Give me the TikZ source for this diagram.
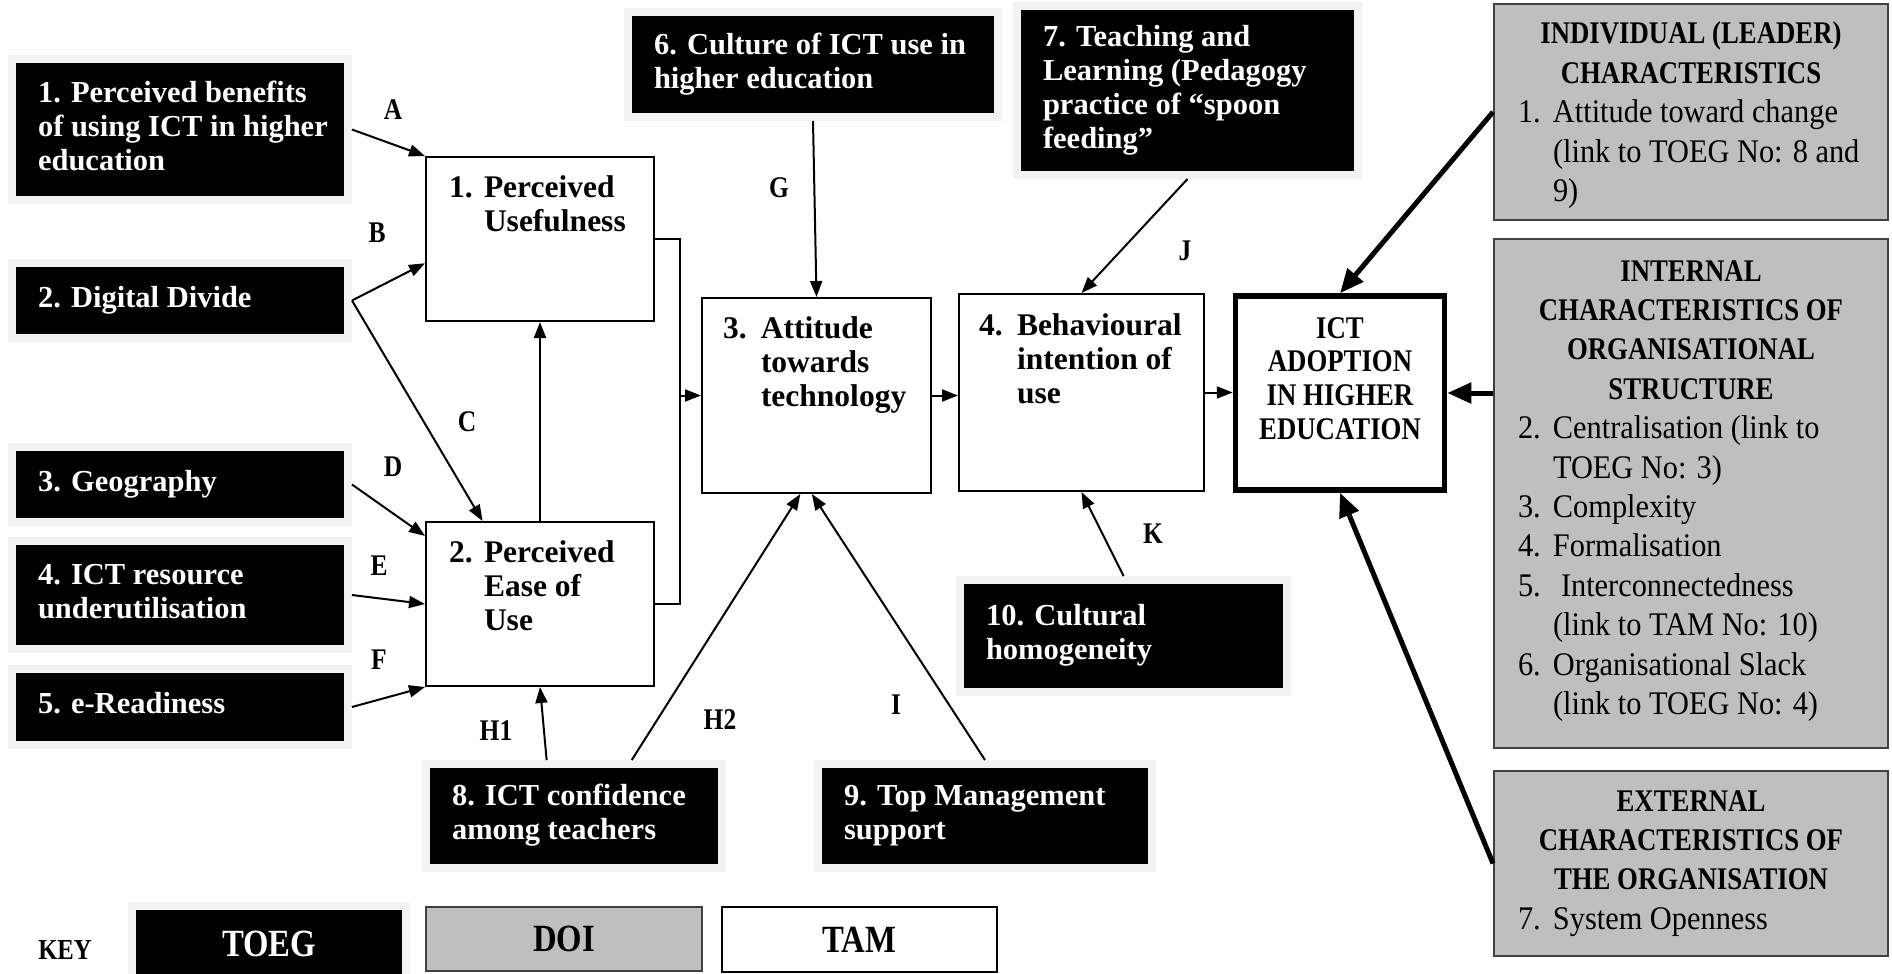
\documentclass[tikz,border=0pt]{standalone}
\usepackage{fontspec}
\setmainfont{Liberation Serif}
\newfontfamily\capf[FakeStretch=0.85]{Liberation Serif}
\newfontfamily\regf[FakeStretch=0.92]{Liberation Serif}
\usetikzlibrary{arrows.meta,calc}
\definecolor{haloc}{HTML}{F2F2F2}
\definecolor{grayc}{HTML}{BFBFBF}
\newcommand\fsz[2]{\fontsize{#1}{#2}\selectfont}
\newcommand\cbox[2]{\makebox[#1][l]{\begin{tabular}{@{}l@{}}#2\end{tabular}}}
\newcommand\tbox[3]{\makebox[#1][l]{\hspace*{#2}\begin{tabular}[t]{@{}l@{}}#3\end{tabular}}}
\newcommand\nm[2]{\makebox[#1][l]{#2}}
\newcommand\hd{\capf\bfseries\fsz{31.5}{39.4}}
\tikzset{
  toeg/.style={fill=black, text=white, preaction={draw=haloc, line width=16pt}, outer sep=8pt, inner xsep=22pt, inner ysep=0pt, font=\bfseries\fsz{30.5}{34}},
  tam/.style={draw=black, fill=white, line width=2pt, inner sep=0pt, font=\bfseries\fsz{31.5}{34}},
  ictbox/.style={draw=black, fill=white, line width=5.5pt, inner sep=0pt, font=\capf\bfseries\fsz{31.5}{33.7}},
  doi/.style={draw=black!75, fill=grayc, line width=2pt, inner sep=0pt, font=\regf\fsz{33}{39.4}},
  keyfont/.style={font=\capf\bfseries\fsz{38.5}{42}},
  lbl/.style={font=\capf\bfseries\fsz{30}{32}, inner sep=0pt},
  conn/.style={line width=2pt, -{Triangle[length=16pt,width=12pt]}},
  link/.style={line width=2pt},
  bigarrow/.style={line width=5pt, -{Triangle[length=24pt,width=20pt]}},
}
\begin{document}
\begin{tikzpicture}[x=1pt,y=-1pt]
\useasboundingbox (0,0) rectangle (1892,974);
\fill[white] (0,0) rectangle (1892,974);

% TOEG boxes
\node[toeg, minimum width=328pt, minimum height=133pt] (b1) at (180,129.5) {\cbox{284pt}{1. Perceived benefits\\of using ICT in higher\\education}};
\node[toeg, minimum width=328pt, minimum height=67pt] (b2) at (180,300.5) {\cbox{284pt}{2. Digital Divide}};
\node[toeg, minimum width=328pt, minimum height=67pt] (b3) at (180,484.5) {\cbox{284pt}{3. Geography}};
\node[toeg, minimum width=328pt, minimum height=100pt] (b4) at (180,595) {\cbox{284pt}{4. ICT resource\\underutilisation}};
\node[toeg, minimum width=328pt, minimum height=68pt] (b5) at (180,707) {\cbox{284pt}{5. e-Readiness}};
\node[toeg, minimum width=362pt, minimum height=97pt] (b6) at (813,64.5) {\cbox{318pt}{6. Culture of ICT use in\\higher education}};
\node[toeg, minimum width=333pt, minimum height=161pt] (b7) at (1187.5,90.5) {\cbox{289pt}{7. Teaching and\\Learning (Pedagogy\\practice of “spoon\\feeding”}};
\node[toeg, minimum width=288pt, minimum height=96pt] (b8) at (574,816) {\cbox{244pt}{8. ICT confidence\\among teachers}};
\node[toeg, minimum width=326pt, minimum height=96pt] (b9) at (985,816) {\cbox{282pt}{9. Top Management\\support}};
\node[toeg, minimum width=319pt, minimum height=104pt] (b10) at (1123.5,636) {\cbox{275pt}{10. Cultural\\homogeneity}};

% TAM boxes
\node[tam, minimum width=228pt, text height=40pt, text depth=124pt] (pu) at (540,239) {\tbox{228pt}{23pt}{\nm{35pt}{1.}Perceived\\\hspace*{35pt}Usefulness}};
\node[tam, minimum width=228pt, text height=40pt, text depth=124pt] (peou) at (540,604) {\tbox{228pt}{23pt}{\nm{35pt}{2.}Perceived\\\hspace*{35pt}Ease of\\\hspace*{35pt}Use}};
\node[tam, minimum width=229pt, text height=40pt, text depth=155pt] (att) at (816.5,395.5) {\tbox{229pt}{21pt}{\nm{38pt}{3.}Attitude\\\hspace*{38pt}towards\\\hspace*{38pt}technology}};
\node[tam, minimum width=245pt, text height=41pt, text depth=156pt] (bi) at (1081.5,392.5) {\tbox{245pt}{20pt}{\nm{38pt}{4.}Behavioural\\\hspace*{38pt}intention of\\\hspace*{38pt}use}};

% ICT adoption
\node[ictbox, minimum width=209pt, text height=42pt, text depth=152pt] (ict) at (1340,393) {\begin{tabular}[t]{@{}c@{}}ICT\\ADOPTION\\IN HIGHER\\EDUCATION\end{tabular}};

% DOI boxes
\node[doi, minimum width=394pt, text height=40pt, text depth=176pt] (g1) at (1691,112) {\tbox{394pt}{24pt}{\makebox[346pt]{\hd INDIVIDUAL (LEADER)}\\\makebox[346pt]{\hd CHARACTERISTICS}\\\nm{35pt}{1.}Attitude toward change\\\hspace*{35pt}(link to TOEG No: 8 and\\\hspace*{35pt}9)}};
\node[doi, minimum width=394pt, text height=42pt, text depth=467pt] (g2) at (1691,493.5) {\tbox{394pt}{24pt}{\makebox[346pt]{\hd INTERNAL}\\\makebox[346pt]{\hd CHARACTERISTICS OF}\\\makebox[346pt]{\hd ORGANISATIONAL}\\\makebox[346pt]{\hd STRUCTURE}\\\nm{35pt}{2.}Centralisation (link to\\\hspace*{35pt}TOEG No: 3)\\\nm{35pt}{3.}Complexity\\\nm{35pt}{4.}Formalisation\\\nm{35pt}{5.}\hspace*{8pt}Interconnectedness\\\hspace*{35pt}(link to TAM No: 10)\\\nm{35pt}{6.}Organisational Slack\\\hspace*{35pt}(link to TOEG No: 4)}};
\node[doi, minimum width=394pt, text height=40pt, text depth=145pt] (g3) at (1691,863.5) {\tbox{394pt}{24pt}{\makebox[346pt]{\hd EXTERNAL}\\\makebox[346pt]{\hd CHARACTERISTICS OF}\\\makebox[346pt]{\hd THE ORGANISATION}\\\nm{35pt}{7.}System Openness}};

% key
\node[font=\capf\bfseries\fsz{29}{32}, inner sep=0pt] (key) at (65,949.5) {KEY};
\node[toeg, keyfont, minimum width=266pt, minimum height=68pt, inner xsep=0pt] (ktoeg) at (269,944) {TOEG};
\node[doi, keyfont, minimum width=276pt, minimum height=64pt] (kdoi) at (564,939) {DOI};
\node[draw=black, fill=white, line width=2pt, inner sep=0pt, minimum width=275pt, minimum height=65pt, keyfont] (ktam) at (859.5,939.5) {TAM};

% connectors
\draw[conn] (b1.east) -- (pu.north west);
\draw[conn] (b2.east) -- ($(pu.north west)!0.646!(pu.south west)$);
\draw[conn] (b2.east) -- ($(peou.north west)!0.25!(peou.north east)$);
\draw[conn] (b3.east) -- ($(peou.north west)!0.09!(peou.south west)$);
\draw[conn] (b4.east) -- (peou.west);
\draw[conn] (b5.east) -- (peou.south west);
\draw[conn] (peou.north) -- (pu.south);
\draw[link] (pu.east) -- ++(25,0) coordinate (brk) |- (peou.east);
\draw[conn] (att.west -| brk) -- (att.west);
\draw[conn] (att.east) -- (att.east -| bi.west);
\draw[conn] (bi.east) -- (bi.east -| ict.west);
\draw[conn] (b6.south) -- (att.north);
\draw[conn] (b7.south) -- (bi.north);
\draw[conn] (b10.north) -- (bi.south);
\draw[conn] ($(b8.north west)!0.41!(b8.north east)$) -- (peou.south);
\draw[conn] ($(b8.north west)!0.69!(b8.north east)$) -- ($(att.south west)!0.43!(att.south east)$);
\draw[conn] (b9.north) -- ($(att.south west)!0.48!(att.south east)$);
\draw[bigarrow] (g1.west) -- (ict.north);
\draw[bigarrow] (g2.west |- ict.east) -- (ict.east);
\draw[bigarrow] (g3.west) -- (ict.south);

% labels
\node[lbl] (la) at (393,110) {A};
\node[lbl] (lb) at (377,233) {B};
\node[lbl] (lc) at (467,422) {C};
\node[lbl] (ld) at (393,467) {D};
\node[lbl] (le) at (379,566) {E};
\node[lbl] (lf) at (379,660) {F};
\node[lbl] (lg) at (779,188) {G};
\node[lbl] (lh1) at (496,731) {H1};
\node[lbl] (lh2) at (720,720) {H2};
\node[lbl] (li) at (896,705) {I};
\node[lbl] (lj) at (1185,251) {J};
\node[lbl] (lk) at (1153,534) {K};
\end{tikzpicture}
\end{document}
